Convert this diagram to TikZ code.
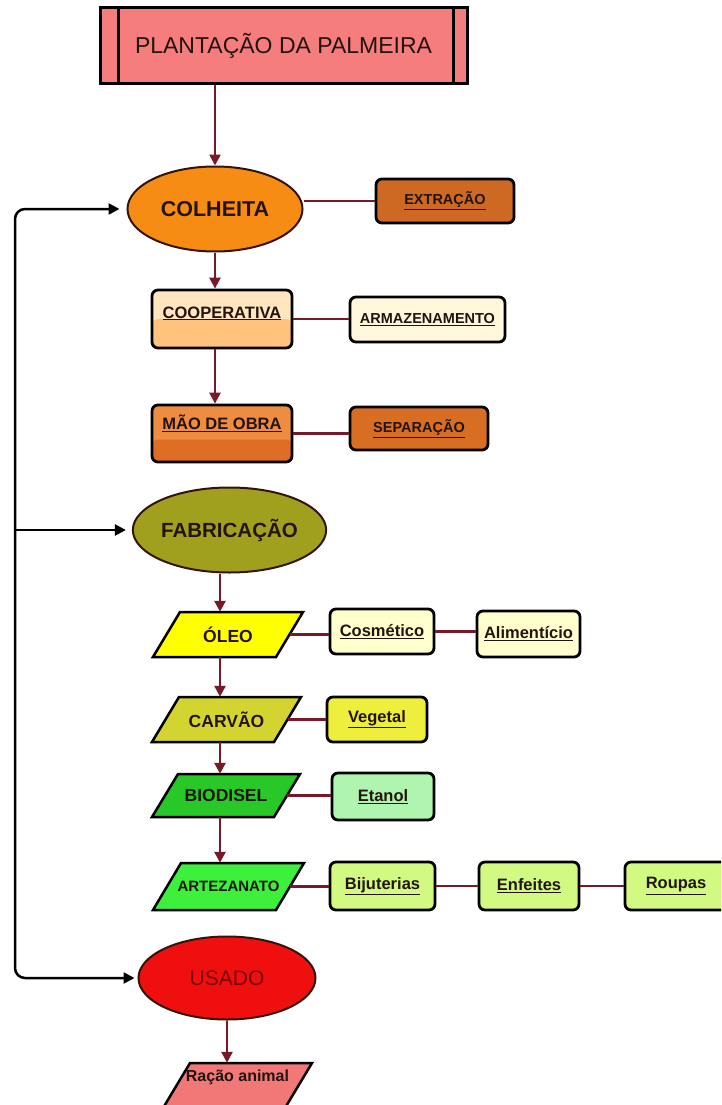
\documentclass[tikz,border=0pt]{standalone}
\usepackage{fontspec}
\setmainfont{Liberation Sans}
\usetikzlibrary{shapes.geometric,arrows.meta}
\definecolor{topc}{RGB}{245,125,125}
\definecolor{colhc}{RGB}{247,140,20}
\definecolor{extrc}{RGB}{205,105,35}
\definecolor{coopT}{RGB}{255,230,190}
\definecolor{coopB}{RGB}{255,195,125}
\definecolor{armzc}{RGB}{255,248,220}
\definecolor{maoT}{RGB}{238,140,65}
\definecolor{maoB}{RGB}{222,110,35}
\definecolor{sepc}{RGB}{215,110,35}
\definecolor{fabc}{RGB}{160,160,30}
\definecolor{oleoc}{RGB}{255,255,0}
\definecolor{cosmc}{RGB}{255,255,205}
\definecolor{carvc}{RGB}{212,212,48}
\definecolor{vegc}{RGB}{238,238,60}
\definecolor{bioc}{RGB}{40,200,40}
\definecolor{etanc}{RGB}{175,245,175}
\definecolor{artc}{RGB}{60,240,60}
\definecolor{bijc}{RGB}{210,250,130}
\definecolor{usadoc}{RGB}{240,15,15}
\definecolor{racaoc}{RGB}{242,120,120}
\definecolor{maroonc}{RGB}{120,25,40}
\definecolor{txtc}{RGB}{35,20,15}
\definecolor{usadotxt}{RGB}{120,0,0}
\definecolor{ellb}{RGB}{50,20,10}
% #1 name, #2 cx, #3 cy, #4 width, #5 height, #6 slant, #7 fill, #8 node options, #9 text
\newcommand\mypara[9]{%
  \filldraw[parabord, fill=#7] (#2-#4/2, #3+#5/2) -- (#2-#4/2+#6, #3-#5/2) -- (#2+#4/2, #3-#5/2)
    -- (#2+#4/2-#6, #3+#5/2) -- cycle;
  \node[paranode, minimum width=#4pt, minimum height=#5pt, #8] (#1) at (#2,#3) {#9};}
\begin{document}
\begin{tikzpicture}[x=1pt,y=-1pt,
  conn/.style={draw=maroonc, line width=2.5pt},
  arr/.style={conn, -{Triangle[width=11pt,length=11pt]}},
  box/.style={draw=black, line width=2.8pt, rounded corners=6pt, inner sep=0pt, text=txtc,
    font=\bfseries\fontsize{14.5}{16}\selectfont},
  sbox/.style={box, font=\bfseries\fontsize{16.5}{18}\selectfont},
  ell/.style={ellipse, draw=ellb, line width=2pt, inner sep=0pt, text=txtc,
    minimum width=175pt, minimum height=85pt, font=\bfseries\fontsize{21.5}{24}\selectfont},
  parabord/.style={draw=black, line width=2.5pt, line join=miter},
  paranode/.style={rectangle, inner sep=0pt, text=txtc, font=\bfseries\fontsize{17.5}{20}\selectfont},
  loopln/.style={draw=black, line width=2.5pt, rounded corners=10pt},
]
\clip (0,0) rectangle (721,1105);
\fill[white] (0,0) rectangle (721,1105);

% top
\node[draw=black, line width=3pt, fill=topc, minimum width=367pt, minimum height=76pt,
  inner sep=0pt, text=txtc, font=\fontsize{23}{26}\selectfont] (top) at (283.5,46) {PLANTAÇÃO DA PALMEIRA};
\draw[line width=3pt] ([xshift=20pt]top.north west) -- ([xshift=20pt]top.south west);
\draw[line width=3pt] ([xshift=-15pt]top.north east) -- ([xshift=-15pt]top.south east);

% first section
\node[ell, fill=colhc] (colh) at (215,209) {COLHEITA};
\node[box, fill=extrc, minimum width=138pt, minimum height=44pt] (extr) at (445,201) {\underline{EXTRAÇÃO}};
\node[sbox, minimum width=140pt, minimum height=58pt, text height=12pt, text depth=14pt,
  path picture={\fill[coopB] (path picture bounding box.west) rectangle (path picture bounding box.south east);},
  fill=coopT] (coop) at (222,319) {\underline{COOPERATIVA}};
\node[box, fill=armzc, minimum width=155pt, minimum height=45pt] (armz) at (427.5,319.5) {\underline{ARMAZENAMENTO}};
\node[sbox, minimum width=140pt, minimum height=57pt, text height=12pt, text depth=20pt,
  path picture={\fill[maoB] ([yshift=-6pt]path picture bounding box.west) rectangle (path picture bounding box.south east);},
  fill=maoT] (mao) at (222,433.5) {\underline{MÃO DE OBRA}};
\node[box, fill=sepc, minimum width=138pt, minimum height=43pt] (sep) at (419,428.5) {\underline{SEPARAÇÃO}};

% second section
\node[ell, fill=fabc, font=\bfseries\fontsize{20.5}{24}\selectfont] (fab) at (229.5,530) {FABRICAÇÃO};
\mypara{oleo}{228}{634.5}{150}{45}{27}{oleoc}{}{ÓLEO}
\node[sbox, fill=cosmc, minimum width=104pt, minimum height=45pt] (cosm) at (382,631.5) {\underline{Cosmético}};
\node[sbox, fill=cosmc, minimum width=103pt, minimum height=46pt] (alim) at (528.5,634) {\underline{Alimentício}};
\mypara{carv}{226.5}{719.5}{149}{45}{27}{carvc}{}{CARVÃO}
\node[sbox, fill=vegc, minimum width=100pt, minimum height=45pt] (veg) at (377,719.5) {\underline{Vegetal}};
\mypara{bio}{226}{795.5}{148}{43}{26}{bioc}{}{BIODISEL}
\node[sbox, fill=etanc, minimum width=102pt, minimum height=47pt] (etan) at (383,796.5) {\underline{Etanol}};
\mypara{art}{228.5}{886.5}{151}{47}{28}{artc}{font=\bfseries\fontsize{15}{18}\selectfont}{ARTEZANATO}
\node[sbox, fill=bijc, minimum width=105pt, minimum height=48pt] (bij) at (382.5,886) {\underline{Bijuterias}};
\node[sbox, fill=bijc, minimum width=100pt, minimum height=48pt] (enf) at (529,886) {\underline{Enfeites}};
\node[sbox, fill=bijc, minimum width=102pt, minimum height=48pt] (roup) at (676,886) {\underline{Roupas}};

% last section
\node[ell, fill=usadoc, minimum width=177pt, minimum height=83pt, text=usadotxt,
  font=\fontsize{21}{24}\selectfont] (usado) at (227,978) {USADO};
\mypara{racao}{237.5}{1085.5}{149}{45}{27}{racaoc}{font=\bfseries\fontsize{16}{18}\selectfont, text height=12pt, text depth=21pt}{Ração animal}

% vertical arrows
\coordinate (ax1) at (215,0);
\coordinate (ax2) at (220,0);
\draw[arr] (ax1 |- top.south) -- (ax1 |- colh.north);
\draw[arr] (colh.south) -- (colh.south |- coop.north);
\draw[arr] (colh.south |- coop.south) -- (colh.south |- mao.north);
\draw[arr] (ax2 |- fab.south) -- (ax2 |- oleo.north);
\draw[arr] (ax2 |- oleo.south) -- (ax2 |- carv.north);
\draw[arr] (ax2 |- carv.south) -- (ax2 |- bio.north);
\draw[arr] (ax2 |- bio.south) -- (ax2 |- art.north);
\draw[arr] (usado.south) -- (usado.south |- racao.north);

% side lines
\draw[conn] (extr.west -| colh.east) -- (extr.west);
\draw[conn] (coop.east) -- (coop.east -| armz.west);
\draw[conn] (mao.east) -- (mao.east -| sep.west);
\draw[conn] ([xshift=-13.5pt]oleo.east) -- (oleo.east -| cosm.west);
\draw[conn] (cosm.east) -- (cosm.east -| alim.west);
\draw[conn] ([xshift=-13.5pt]carv.east) -- (carv.east -| veg.west);
\draw[conn] ([xshift=-13pt]bio.east) -- (bio.east -| etan.west);
\draw[conn] ([xshift=-14pt]art.east) -- (art.east -| bij.west);
\draw[conn] (bij.east) -- (bij.east -| enf.west);
\draw[conn] (enf.east) -- (enf.east -| roup.west);

% loop
\coordinate (lx) at (15,0);
\draw[loopln, {Triangle[width=11pt,length=11pt]}-{Triangle[width=11pt,length=11pt]},
  shorten <=7pt, shorten >=3pt] (colh.west) -| (lx |- usado.west) -- (usado.west);
\draw[loopln, -{Triangle[width=11pt,length=11pt]}, shorten >=6pt] (lx |- fab.west) -- (fab.west);
\end{tikzpicture}
\end{document}
